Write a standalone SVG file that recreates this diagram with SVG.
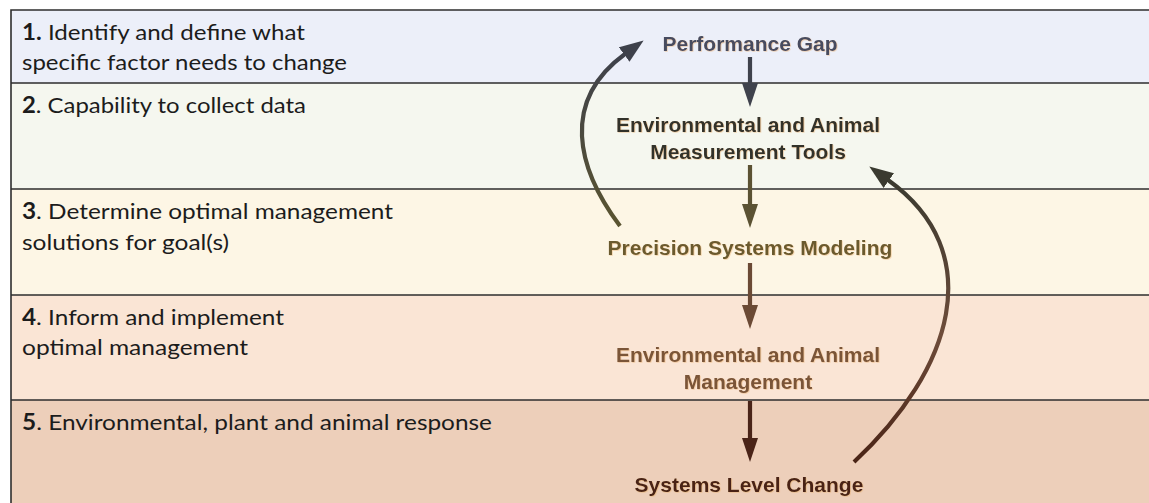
<svg xmlns="http://www.w3.org/2000/svg" width="1149" height="503" viewBox="0 0 1149 503">
<style>
.band{stroke:none}
.sep{stroke:#2e2e2e;stroke-width:1.6;fill:none}
.step{font-family:Lato,"Liberation Sans",sans-serif;font-size:22px;fill:#1c1c1c}
.step .n{font-weight:bold}
.lbl{font-family:"Liberation Sans",Arial,sans-serif;font-size:21px;font-weight:bold;text-anchor:middle;filter:url(#glow)}
.conn{fill:none;stroke-width:4.2}
</style>
<defs>
<filter id="glow" x="-5%" y="-20%" width="110%" height="140%">
<feDropShadow dx="0.7" dy="0.7" stdDeviation="0.4" flood-color="#e8a860" flood-opacity="0.5"/>
</filter>
<marker id="h1" markerUnits="userSpaceOnUse" viewBox="0 0 24 16" markerWidth="24" markerHeight="16" refX="1" refY="8" orient="auto"><path d="M0,0 L24,8 L0,16 z" fill="#3f424c"/></marker>
<marker id="h2" markerUnits="userSpaceOnUse" viewBox="0 0 24 16" markerWidth="24" markerHeight="16" refX="1" refY="8" orient="auto"><path d="M0,0 L24,8 L0,16 z" fill="#5b5233"/></marker>
<marker id="h3" markerUnits="userSpaceOnUse" viewBox="0 0 24 16" markerWidth="24" markerHeight="16" refX="1" refY="8" orient="auto"><path d="M0,0 L24,8 L0,16 z" fill="#6b4a35"/></marker>
<marker id="h4" markerUnits="userSpaceOnUse" viewBox="0 0 24 16" markerWidth="24" markerHeight="16" refX="1" refY="8" orient="auto"><path d="M0,0 L24,8 L0,16 z" fill="#4a2418"/></marker>
<marker id="hL" markerUnits="userSpaceOnUse" viewBox="0 0 24 18" markerWidth="24" markerHeight="18" refX="1" refY="9" orient="auto"><path d="M0,0 L24,9 L0,18 z" fill="#3e414b"/></marker>
<marker id="hR" markerUnits="userSpaceOnUse" viewBox="0 0 24 18" markerWidth="24" markerHeight="18" refX="1" refY="9" orient="auto"><path d="M0,0 L24,9 L0,18 z" fill="#3a3a30"/></marker>
<linearGradient id="gL" gradientUnits="userSpaceOnUse" x1="0" y1="226" x2="0" y2="54">
<stop offset="0" stop-color="#5a5430"/><stop offset="1" stop-color="#3e414b"/>
</linearGradient>
<linearGradient id="gR" gradientUnits="userSpaceOnUse" x1="0" y1="462" x2="0" y2="180">
<stop offset="0" stop-color="#4a2416"/><stop offset="0.45" stop-color="#6e4c3a"/><stop offset="1" stop-color="#3a3a30"/>
</linearGradient>
</defs>

<g id="bands">
<rect class="band" x="11" y="10" width="1138" height="73" fill="#eceff9"/>
<rect class="band" x="11" y="83" width="1138" height="106" fill="#f5f7ef"/>
<rect class="band" x="11" y="189" width="1138" height="106" fill="#fdf6e5"/>
<rect class="band" x="11" y="295" width="1138" height="105" fill="#fae5d5"/>
<rect class="band" x="11" y="400" width="1138" height="103" fill="#edcfba"/>
<path class="sep" d="M11,503 V10 H1149 M11,83 H1149 M11,189 H1149 M11,295 H1149 M11,400 H1149"/>
</g>

<g id="step1">
<text class="step" x="22" y="40" textLength="283" lengthAdjust="spacingAndGlyphs"><tspan class="n">1.</tspan> Identify and define what</text>
<text class="step" x="22" y="70" textLength="325" lengthAdjust="spacingAndGlyphs">specific factor needs to change</text>
</g>
<g id="step2">
<text class="step" x="22" y="113" textLength="284" lengthAdjust="spacingAndGlyphs"><tspan class="n">2</tspan>. Capability to collect data</text>
</g>
<g id="step3">
<text class="step" x="22" y="219" textLength="371" lengthAdjust="spacingAndGlyphs"><tspan class="n">3</tspan>. Determine optimal management</text>
<text class="step" x="22" y="250" textLength="207" lengthAdjust="spacingAndGlyphs">solutions for goal(s)</text>
</g>
<g id="step4">
<text class="step" x="22" y="325" textLength="262" lengthAdjust="spacingAndGlyphs"><tspan class="n">4</tspan>. Inform and implement</text>
<text class="step" x="22" y="355" textLength="226" lengthAdjust="spacingAndGlyphs">optimal management</text>
</g>
<g id="step5">
<text class="step" x="22" y="430" textLength="470" lengthAdjust="spacingAndGlyphs"><tspan class="n">5</tspan>. Environmental, plant and animal response</text>
</g>

<g id="connectors">
<path class="conn" d="M750,57 V84" stroke="#3f424c" marker-end="url(#h1)"/>
<path class="conn" d="M750,165 V205" stroke="#5b5233" marker-end="url(#h2)"/>
<path class="conn" d="M750,263 V306" stroke="#6b4a35" marker-end="url(#h3)"/>
<path class="conn" d="M750,401 V439" stroke="#4a2418" marker-end="url(#h4)"/>
<path class="conn" d="M620,226 C576.8,168.4 560.2,101.2 625,54" stroke="url(#gL)" marker-end="url(#hL)"/>
<path class="conn" d="M854,462 C952.6,370.2 989.3,252.5 888,180" stroke="url(#gR)" marker-end="url(#hR)"/>
</g>

<g id="n-gap"><text class="lbl" x="750" y="51" fill="#464c5e">Performance Gap</text></g>
<g id="n-tools"><text class="lbl" x="748" y="132" fill="#33332c">Environmental and Animal</text><text class="lbl" x="748" y="159" fill="#33332c">Measurement Tools</text></g>
<g id="n-model"><text class="lbl" x="750" y="255" fill="#6b5a2e">Precision Systems Modeling</text></g>
<g id="n-mgmt"><text class="lbl" x="748" y="362" fill="#7a5438">Environmental and Animal</text><text class="lbl" x="748" y="389" fill="#7a5438">Management</text></g>
<g id="n-change"><text class="lbl" x="749" y="492" fill="#4a2414">Systems Level Change</text></g>
</svg>
